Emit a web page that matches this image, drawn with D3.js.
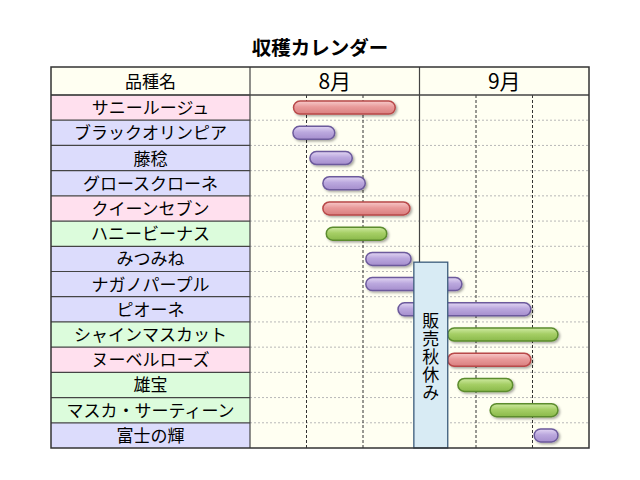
<!DOCTYPE html>
<html>
<head>
<meta charset="utf-8">
<script src="https://cdn.jsdelivr.net/npm/d3@7"></script>
<style>
  body { margin: 0; background: #fff; }
  svg { font-family: "Noto Sans CJK JP", sans-serif; }
</style>
</head>
<body>
<div id="chart"></div>
<script>
// 品種と収穫期間 (単位: 旬, 0 = 8月1日, 3 = 9月1日, 6 = 10月1日)
const varieties = ["サニールージュ", "ブラックオリンピア", "藤稔", "グロースクローネ", "クイーンセブン",
  "ハニービーナス", "みつみね", "ナガノパープル", "ピオーネ", "シャインマスカット",
  "ヌーベルローズ", "雄宝", "マスカ・サーティーン", "富士の輝"];
const grapeColor = ["red", "purple", "purple", "purple", "red", "green", "purple", "purple",
  "purple", "green", "red", "green", "green", "purple"];
const harvestStart = [0.77, 0.76, 1.06, 1.29, 1.29, 1.35, 2.05, 2.05, 2.62, 3.5, 3.5, 3.68, 4.25, 5.03];
const harvestEnd = [2.57, 1.5, 1.81, 2.04, 2.83, 2.42, 2.85, 3.75, 4.97, 5.45, 4.97, 4.65, 5.45, 5.45];
const months = ["8月", "9月"];
const thirds = [0, 1, 2, 3, 4, 5, 6];
const breakLabel = "販売秋休み";
const breakPeriod = [2.9, 3.5];

const width = 640, height = 480;
const gridLeft = 51, nameRight = 250, gridRight = 589, gridTop = 67, headBottom = 95, gridBottom = 448;

const palette = {
  red: { bg: "#ffe0ee", stops: ["#f7caca", "#e99a9a", "#d97f7f"], stroke: "#b84848" },
  purple: { bg: "#dcdcfc", stops: ["#e2d6f3", "#bba8de", "#a58ecd"], stroke: "#6c5a9c" },
  green: { bg: "#dcfcdc", stops: ["#cfeaa2", "#a6cf66", "#8ab94a"], stroke: "#5c8c2e" }
};

const svg = d3.select("#chart").append("svg")
  .attr("width", width)
  .attr("height", height);

const defs = svg.append("defs");
Object.entries(palette).forEach(([key, p]) => {
  const g = defs.append("linearGradient")
    .attr("id", "grad-" + key)
    .attr("x1", 0).attr("y1", 0).attr("x2", 0).attr("y2", 1);
  g.append("stop").attr("offset", "0%").attr("stop-color", p.stops[0]);
  g.append("stop").attr("offset", "45%").attr("stop-color", p.stops[1]);
  g.append("stop").attr("offset", "100%").attr("stop-color", p.stops[2]);
});
const shadow = defs.append("filter").attr("id", "shadow")
  .attr("x", "-10%").attr("y", "-40%").attr("width", "130%").attr("height", "200%");
shadow.append("feDropShadow")
  .attr("dx", 1.5).attr("dy", 1.5).attr("stdDeviation", 1.2)
  .attr("flood-color", "#000").attr("flood-opacity", 0.35);

const x = d3.scaleLinear().domain([0, 6]).range([nameRight, gridRight]);
const xMonth = d3.scaleBand().domain(months).range([nameRight, gridRight]);
const y = d3.scaleBand().domain(varieties).range([headBottom, gridBottom]);

const rows = varieties.map((name, i) => ({
  name, color: grapeColor[i], start: harvestStart[i], end: harvestEnd[i]
}));

// title
svg.append("text")
  .attr("x", width / 2)
  .attr("y", 55)
  .attr("text-anchor", "middle")
  .attr("font-size", "19.5px")
  .attr("font-weight", "bold")
  .text("収穫カレンダー");

// background
svg.append("rect")
  .attr("x", gridLeft).attr("y", gridTop)
  .attr("width", gridRight - gridLeft).attr("height", gridBottom - gridTop)
  .attr("fill", "#fffff2");

// name cells
svg.selectAll(".name-bg")
  .data(rows)
  .join("rect")
  .attr("class", "name-bg")
  .attr("x", gridLeft)
  .attr("y", d => y(d.name))
  .attr("width", nameRight - gridLeft)
  .attr("height", y.bandwidth())
  .attr("fill", d => palette[d.color].bg);

// dotted row lines in chart area
svg.selectAll(".row-line")
  .data(varieties.slice(1))
  .join("line")
  .attr("class", "row-line")
  .attr("x1", nameRight).attr("x2", gridRight)
  .attr("y1", d => y(d)).attr("y2", d => y(d))
  .attr("stroke", "#b8b8b8")
  .attr("stroke-width", 1)
  .attr("stroke-dasharray", "2,2");

// solid row lines in name column
svg.selectAll(".name-line")
  .data(varieties)
  .join("line")
  .attr("class", "name-line")
  .attr("x1", gridLeft).attr("x2", nameRight)
  .attr("y1", d => y(d)).attr("y2", d => y(d))
  .attr("stroke", "#444")
  .attr("stroke-width", 1.2);

// dashed ten-day lines
svg.selectAll(".third-line")
  .data(thirds.filter(t => t % 3 !== 0))
  .join("line")
  .attr("class", "third-line")
  .attr("x1", d => x(d)).attr("x2", d => x(d))
  .attr("y1", headBottom).attr("y2", gridBottom)
  .attr("stroke", "#333")
  .attr("stroke-width", 1)
  .attr("stroke-dasharray", "3,2");

// month divider and name column edge
svg.selectAll(".col-line")
  .data([nameRight, x(3)])
  .join("line")
  .attr("class", "col-line")
  .attr("x1", d => d).attr("x2", d => d)
  .attr("y1", gridTop).attr("y2", gridBottom)
  .attr("stroke", "#444")
  .attr("stroke-width", 1.2);

// header
svg.append("line")
  .attr("x1", gridLeft).attr("x2", gridRight)
  .attr("y1", headBottom).attr("y2", headBottom)
  .attr("stroke", "#444")
  .attr("stroke-width", 1.5);
svg.append("text")
  .attr("x", (gridLeft + nameRight) / 2)
  .attr("y", gridTop + 21)
  .attr("text-anchor", "middle")
  .attr("font-size", "17px")
  .text("品種名");
svg.selectAll(".month")
  .data(months)
  .join("text")
  .attr("class", "month")
  .attr("x", d => xMonth(d) + xMonth.bandwidth() / 2)
  .attr("y", gridTop + 22)
  .attr("text-anchor", "middle")
  .attr("font-size", "21px")
  .text(d => d);

// variety names
svg.selectAll(".name")
  .data(rows)
  .join("text")
  .attr("class", "name")
  .attr("x", (gridLeft + nameRight) / 2)
  .attr("y", d => y(d.name) + y.bandwidth() / 2 + 6.5)
  .attr("text-anchor", "middle")
  .attr("font-size", "17px")
  .text(d => d.name);

// bars
const barH = 13;
svg.selectAll(".bar")
  .data(rows)
  .join("rect")
  .attr("class", "bar")
  .attr("x", d => x(d.start))
  .attr("y", d => y(d.name) + y.bandwidth() / 2 - barH / 2)
  .attr("width", d => x(d.end) - x(d.start))
  .attr("height", barH)
  .attr("rx", barH / 2)
  .attr("ry", barH / 2)
  .attr("fill", d => "url(#grad-" + d.color + ")")
  .attr("stroke", d => palette[d.color].stroke)
  .attr("stroke-width", 1.5)
  .attr("filter", "url(#shadow)");

// sales break box
const boxTop = y("みつみね") + y.bandwidth() * 0.63;
const boxMid = (x(breakPeriod[0]) + x(breakPeriod[1])) / 2;
svg.append("rect")
  .attr("x", x(breakPeriod[0]))
  .attr("y", boxTop)
  .attr("width", x(breakPeriod[1]) - x(breakPeriod[0]))
  .attr("height", gridBottom - boxTop)
  .attr("fill", "#d8ebf4")
  .attr("stroke", "#3b5b7b")
  .attr("stroke-width", 1.3);
svg.append("text")
  .attr("x", boxMid)
  .attr("y", y("ヌーベルローズ") + y.bandwidth() * 0.4)
  .attr("writing-mode", "vertical-rl")
  .attr("text-anchor", "middle")
  .attr("font-size", "17px")
  .attr("letter-spacing", "1px")
  .text(breakLabel);

// outer border
svg.append("rect")
  .attr("x", gridLeft).attr("y", gridTop)
  .attr("width", gridRight - gridLeft).attr("height", gridBottom - gridTop)
  .attr("fill", "none")
  .attr("stroke", "#333")
  .attr("stroke-width", 1.5);
</script>
</body>
</html>
